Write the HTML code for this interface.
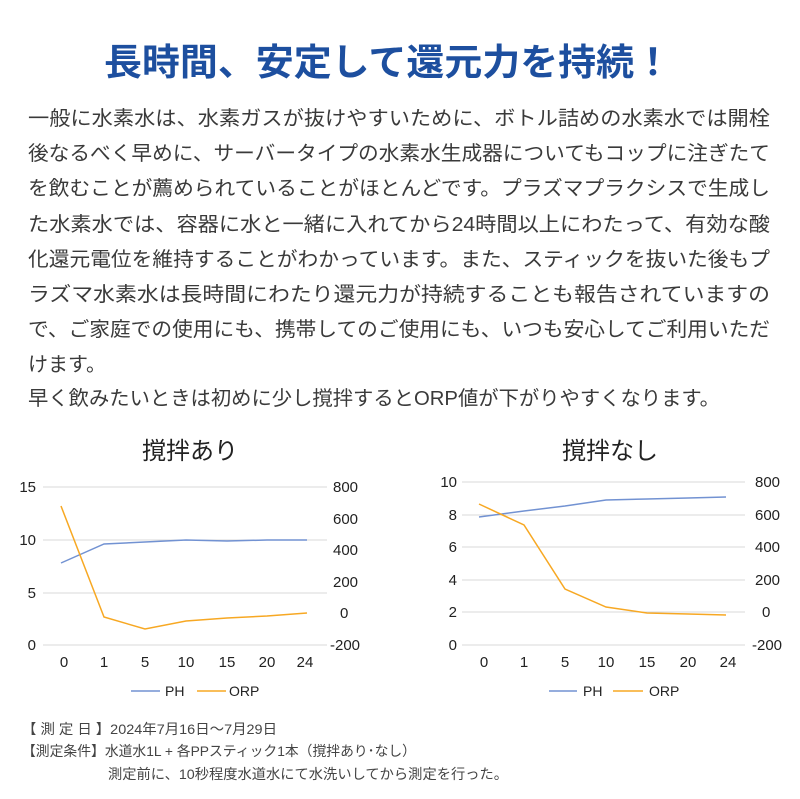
<!DOCTYPE html>
<html><head><meta charset="utf-8"><style>
html,body{margin:0;padding:0;background:#fff}
svg{display:block}
text{font-family:"Liberation Sans","Noto Sans CJK JP",sans-serif}
</style></head><body>
<svg width="800" height="799" viewBox="0 0 800 799" xmlns="http://www.w3.org/2000/svg">
<text x="388" y="75" text-anchor="middle" font-size="37" font-weight="bold" fill="#1d4f9f" textLength="568" lengthAdjust="spacingAndGlyphs">長時間、安定して還元力を持続！</text>
<g font-size="20" fill="#3a3a3a">
<text x="28" y="125" textLength="742" lengthAdjust="spacingAndGlyphs">一般に水素水は、水素ガスが抜けやすいために、ボトル詰めの水素水では開栓</text>
<text x="28" y="160" textLength="742" lengthAdjust="spacingAndGlyphs">後なるべく早めに、サーバータイプの水素水生成器についてもコップに注ぎたて</text>
<text x="28" y="195" textLength="742" lengthAdjust="spacingAndGlyphs">を飲むことが薦められていることがほとんどです。プラズマプラクシスで生成し</text>
<text x="28" y="231" textLength="742" lengthAdjust="spacingAndGlyphs">た水素水では、容器に水と一緒に入れてから24時間以上にわたって、有効な酸</text>
<text x="28" y="266" textLength="742" lengthAdjust="spacingAndGlyphs">化還元電位を維持することがわかっています。また、スティックを抜いた後もプ</text>
<text x="28" y="301" textLength="742" lengthAdjust="spacingAndGlyphs">ラズマ水素水は長時間にわたり還元力が持続することも報告されていますの</text>
<text x="28" y="336" textLength="742" lengthAdjust="spacingAndGlyphs">で、ご家庭での使用にも、携帯してのご使用にも、いつも安心してご利用いただ</text>
<text x="28" y="371">けます。</text>
<text x="28" y="405" textLength="692" lengthAdjust="spacingAndGlyphs">早く飲みたいときは初めに少し撹拌するとORP値が下がりやすくなります。</text>
</g>
<!-- chart 1 -->
<g font-size="15" fill="#222">
<text x="190" y="459" text-anchor="middle" font-size="24">撹拌あり</text>
<g stroke="#d9d9d9" stroke-width="1">
<line x1="43" y1="487" x2="327" y2="487"/><line x1="43" y1="540" x2="327" y2="540"/>
<line x1="43" y1="593" x2="327" y2="593"/><line x1="43" y1="645" x2="327" y2="645"/>
</g>
<g text-anchor="end"><text x="36" y="492">15</text><text x="36" y="545">10</text><text x="36" y="598">5</text><text x="36" y="650">0</text></g>
<g><text x="333" y="492">800</text><text x="333" y="524">600</text><text x="333" y="555">400</text><text x="333" y="587">200</text><text x="340" y="618">0</text><text x="330" y="650">-200</text></g>
<g text-anchor="middle"><text x="64" y="667">0</text><text x="104" y="667">1</text><text x="145" y="667">5</text><text x="186" y="667">10</text><text x="227" y="667">15</text><text x="267" y="667">20</text><text x="305" y="667">24</text></g>
<polyline fill="none" stroke="#7292d2" stroke-width="1.5" points="61,563 104,544 145,542 186,540 227,541 267,540 307,540"/>
<polyline fill="none" stroke="#f7a823" stroke-width="1.5" points="61,506 104,617 145,629 186,621 227,618 267,616 307,613"/>
<line x1="131" y1="691" x2="160" y2="691" stroke="#7292d2" stroke-width="1.5"/><text x="165" y="696" font-size="14">PH</text>
<line x1="197" y1="691" x2="226" y2="691" stroke="#f7a823" stroke-width="1.5"/><text x="229" y="696" font-size="14">ORP</text>
</g>
<!-- chart 2 -->
<g font-size="15" fill="#222">
<text x="610" y="459" text-anchor="middle" font-size="24">撹拌なし</text>
<g stroke="#d9d9d9" stroke-width="1">
<line x1="462" y1="482" x2="745" y2="482"/><line x1="462" y1="515" x2="745" y2="515"/><line x1="462" y1="547" x2="745" y2="547"/>
<line x1="462" y1="580" x2="745" y2="580"/><line x1="462" y1="612" x2="745" y2="612"/><line x1="462" y1="645" x2="745" y2="645"/>
</g>
<g text-anchor="end"><text x="457" y="487">10</text><text x="457" y="520">8</text><text x="457" y="552">6</text><text x="457" y="585">4</text><text x="457" y="617">2</text><text x="457" y="650">0</text></g>
<g><text x="755" y="487">800</text><text x="755" y="520">600</text><text x="755" y="552">400</text><text x="755" y="585">200</text><text x="762" y="617">0</text><text x="752" y="650">-200</text></g>
<g text-anchor="middle"><text x="484" y="667">0</text><text x="524" y="667">1</text><text x="565" y="667">5</text><text x="606" y="667">10</text><text x="647" y="667">15</text><text x="688" y="667">20</text><text x="728" y="667">24</text></g>
<polyline fill="none" stroke="#7292d2" stroke-width="1.5" points="479,517 524,511 565,506 606,500 647,499 688,498 726,497"/>
<polyline fill="none" stroke="#f7a823" stroke-width="1.5" points="479,504 524,525 565,589 606,607 647,613 688,614 726,615"/>
<line x1="549" y1="691" x2="577" y2="691" stroke="#7292d2" stroke-width="1.5"/><text x="583" y="696" font-size="14">PH</text>
<line x1="613" y1="691" x2="643" y2="691" stroke="#f7a823" stroke-width="1.5"/><text x="649" y="696" font-size="14">ORP</text>
</g>
<g font-size="14" fill="#444">
<text x="22" y="734" textLength="255" lengthAdjust="spacingAndGlyphs">【 測 定 日 】2024年7月16日〜7月29日</text>
<text x="22" y="756" textLength="394" lengthAdjust="spacingAndGlyphs">【測定条件】水道水1L + 各PPスティック1本（撹拌あり･なし）</text>
<text x="108" y="779" textLength="400" lengthAdjust="spacingAndGlyphs">測定前に、10秒程度水道水にて水洗いしてから測定を行った。</text>
</g>
</svg>
</body></html>
